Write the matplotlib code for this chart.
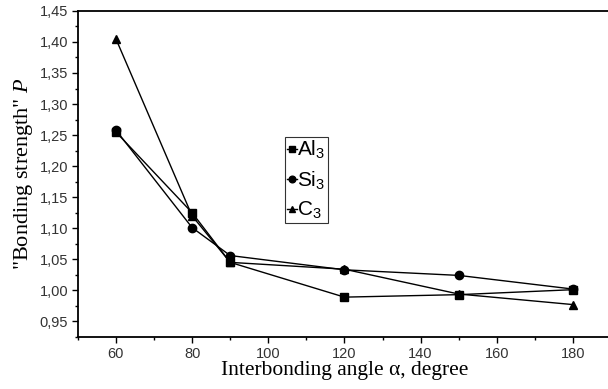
import matplotlib
import numpy as np

matplotlib.use("Agg")
import matplotlib.pyplot as plt
from matplotlib.ticker import FuncFormatter, MultipleLocator

angles = [60, 80, 90, 120, 150, 180]
al3 = [1.255, 1.125, 1.045, 0.989, 0.993, 1.001]
si3 = [1.258, 1.101, 1.056, 1.033, 1.024, 1.002]
c3 = [1.405, 1.120, 1.045, 1.034, 0.994, 0.977]

plt.rcParams["mathtext.fontset"] = "custom"
plt.rcParams["mathtext.it"] = "Liberation Serif:italic"
plt.rcParams["mathtext.rm"] = "Liberation Serif"

figure = plt.figure(figsize=(6.08, 3.89), dpi=100)
axis = figure.add_axes([0.128, 0.134, 0.877, 0.838])

series = [
    (al3, "s", r"$\mathregular{Al_3}$"),
    (si3, "o", r"$\mathregular{Si_3}$"),
    (c3, "^", r"$\mathregular{C_3}$"),
]
for values, marker, label in series:
    axis.plot(angles, values, color="black", linewidth=1.0, marker=marker,
              markersize=6, label=label)

axis.set_xlim(50, 190)
axis.set_ylim(0.925, 1.45)
axis.xaxis.set_major_locator(MultipleLocator(20))
axis.xaxis.set_minor_locator(MultipleLocator(10))
axis.yaxis.set_major_locator(MultipleLocator(0.05))
axis.yaxis.set_minor_locator(MultipleLocator(0.025))
axis.yaxis.set_major_formatter(FuncFormatter(lambda v, _: f"{v:.2f}".replace(".", ",")))

for label in axis.get_xticklabels() + axis.get_yticklabels():
    label.set_fontfamily("Liberation Sans")
    label.set_fontsize(10.5)
    label.set_color("#333333")
axis.tick_params(which="major", direction="out", length=4, width=1, pad=3)
axis.tick_params(which="minor", direction="out", length=2.5, width=1)

for spine in axis.spines.values():
    spine.set_linewidth(1.3)

axis.set_xlabel("Interbonding angle α, degree", fontfamily="Liberation Serif",
                fontsize=15.5, labelpad=0)
axis.set_ylabel(r'"Bonding strength" $P$', fontfamily="Liberation Serif",
                fontsize=16, labelpad=3)

legend = axis.legend(loc="upper left", bbox_to_anchor=(0.388, 0.614),
                     prop={"family": "Liberation Sans", "size": 15},
                     frameon=True, fancybox=False, handlelength=0.5,
                     handletextpad=0.0, borderpad=0.1, labelspacing=0.4,
                     borderaxespad=0, markerscale=0.8)
legend.get_frame().set_edgecolor("black")
legend.get_frame().set_linewidth(0.8)

figure.savefig("out.png", dpi=100)
plt.close(figure)
